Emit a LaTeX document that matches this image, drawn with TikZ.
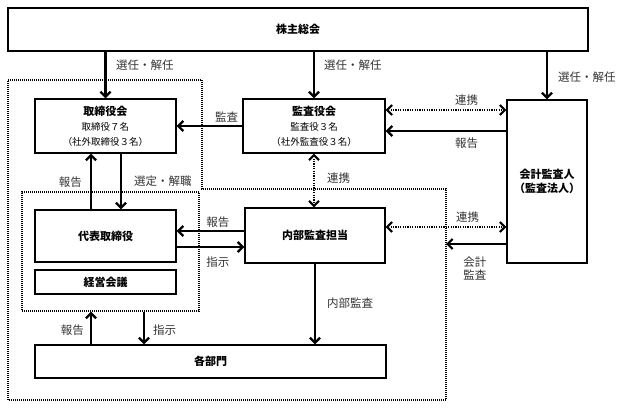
\documentclass[tikz,border=0pt]{standalone}
\usepackage{fontspec}
\setmainfont{Noto Sans CJK JP}
\usetikzlibrary{arrows.meta}

\begin{document}
\begin{tikzpicture}[x=1pt, y=-1pt,
    box/.style={shape=rectangle, draw=black, line width=1.4pt, inner sep=0pt, align=center, font=\fontsize{11}{13.5}\selectfont\bfseries},
    arr/.style={-{Straight Barb[length=5pt,width=10pt]}, line width=2.2pt},
    dotarr/.style={{Straight Barb[length=5pt,width=10pt]}-{Straight Barb[length=5pt,width=10pt]}, line width=2pt, dash pattern=on 1.2pt off 1.2pt},
    grpline/.style={draw=black, line width=1.4pt, dash pattern=on 1pt off 1pt},
    lbl/.style={font=\fontsize{11.5}{13}\selectfont, text=black!80, inner sep=2pt, align=center}]
    \useasboundingbox (0,0) rectangle (622,409);

    % boxes
    \node[box, minimum width=580pt, minimum height=43pt] (sou) at (298,29.5) {株主総会};
    \node[box, minimum width=141pt, minimum height=54pt, font=\fontsize{11}{15}\selectfont\bfseries] (tori) at (105.5,126)
        {取締役会\\{\fontsize{9.5}{15}\selectfont\mdseries 取締役７名}\\{\fontsize{9.5}{15}\selectfont\mdseries （社外取締役３名）}};
    \node[box, minimum width=142pt, minimum height=54pt, font=\fontsize{11}{15}\selectfont\bfseries] (kansa) at (314,126)
        {監査役会\\{\fontsize{9.5}{15}\selectfont\mdseries 監査役３名}\\{\fontsize{9.5}{15}\selectfont\mdseries （社外監査役３名）}};
    \node[box, minimum width=80pt, minimum height=163pt] (kaikei) at (547,181.5) {会計監査人\\（監査法人）};
    \node[box, minimum width=140pt, minimum height=55pt] (naibu) at (315,235.5) {内部監査担当};
    \node[box, minimum width=141pt, minimum height=52pt] (daihyo) at (105.5,236) {代表取締役};
    \node[box, minimum width=141pt, minimum height=24pt] (keiei) at (105.5,282) {経営会議};
    \node[box, minimum width=351pt, minimum height=33pt] (kakubu) at (210.5,361.5) {各部門};

    % dotted groups
    \node[grpline, minimum width=177pt, minimum height=119pt] (grp) at (110.5,251.5) {};
    \draw[grpline] (8,80) -- (202,80) -- (202,189) -- (446,189) -- (446,400) -- (8,400) -- cycle;
    \coordinate (audR) at (446,244);

    % connectors
    \draw[arr] (sou.south -| tori.north) -- node[lbl, pos=0.29, anchor=west, xshift=7.5pt] {選任・解任} (tori.north);
    \draw[arr] (sou.south -| kansa.north) -- node[lbl, pos=0.29, anchor=west, xshift=7pt] {選任・解任} (kansa.north);
    \draw[arr] (sou.south -| kaikei.north) -- node[lbl, pos=0.53, anchor=west, xshift=8pt] {選任・解任} (kaikei.north);
    \draw[arr] (kansa.west) -- node[lbl, pos=0.24, yshift=9pt] {監査} (tori.east);
    \draw[dotarr] (kansa.east |- 0,110) -- node[lbl, pos=0.67, yshift=10pt] {連携} (kaikei.west |- 0,110);
    \draw[arr] (kaikei.west |- 0,131) -- node[lbl, pos=0.33, yshift=-12pt] {報告} (kansa.east |- 0,131);
    \draw[dotarr] (kansa.south) -- node[lbl, pos=0.45, anchor=west, xshift=10pt] {連携} (kansa.south |- naibu.north);
    \draw[dotarr] (naibu.east |- 0,227) -- node[lbl, pos=0.68, yshift=10pt] {連携} (kaikei.west |- 0,227);
    \draw[arr] (kaikei.west |- 0,244) -- node[lbl, pos=0.52, yshift=-25pt] {会計\\監査} (audR);
    \draw[arr] (naibu.west |- 0,231) -- node[lbl, pos=0.39, yshift=9pt] {報告} (daihyo.east |- 0,231);
    \draw[arr] (daihyo.east |- 0,247) -- node[lbl, pos=0.61, yshift=-15pt] {指示} (naibu.west |- 0,247);
    \draw[arr] (daihyo.north -| 91,0) -- node[lbl, pos=0.49, anchor=east, xshift=-6pt] {報告} (tori.south -| 91,0);
    \draw[arr] (tori.south -| 121,0) -- node[lbl, pos=0.5, anchor=west, xshift=10pt] {選定・解職} (daihyo.north -| 121,0);
    \draw[arr] (kakubu.north -| 91,0) -- node[lbl, pos=0.44, anchor=east, xshift=-4pt] {報告} (grp.south -| 91,0);
    \draw[arr] (grp.south -| 144,0) -- node[lbl, pos=0.56, anchor=west, xshift=6pt] {指示} (kakubu.north -| 144,0);
    \draw[arr] (naibu.south) -- node[lbl, pos=0.49, anchor=west, xshift=9pt] {内部監査} (naibu.south |- kakubu.north);
\end{tikzpicture}
\end{document}
